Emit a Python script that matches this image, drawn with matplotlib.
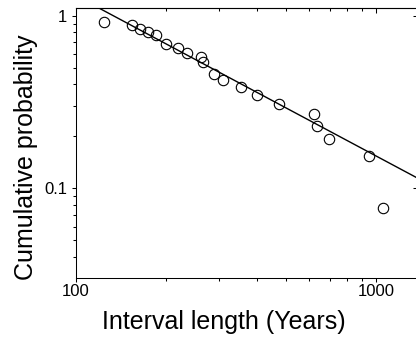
import matplotlib
matplotlib.use("Agg")
import matplotlib.pyplot as plt
from matplotlib.ticker import LogLocator, NullFormatter

# data
interval_years = [124, 154, 164, 174, 185, 200, 219, 234, 260, 265,
                  288, 308, 354, 400, 474, 620, 634, 697, 950, 1053]
cum_prob = [0.919, 0.884, 0.837, 0.804, 0.770, 0.688, 0.653, 0.610, 0.579, 0.537,
            0.461, 0.422, 0.385, 0.347, 0.309, 0.270, 0.231, 0.192, 0.153, 0.077]

# fitted line (end points)
fit_x = [118, 1450]
fit_y = [1.118, 0.109]

plt.rcParams['font.family'] = ['Liberation Sans', 'DejaVu Sans']

fig = plt.figure(figsize=(4.16, 3.44), dpi=100)
# right spine sits just outside the picture, as in the reference
ax = fig.add_axes([76/416, 66/344, 342/416, 270/344])

ax.plot(fit_x, fit_y, color='black', lw=1.0)
ax.plot(interval_years, cum_prob, 'o', mfc='none', mec='black', ms=7.5, mew=0.8)

ax.set_xscale('log')
ax.set_yscale('log')
ax.set_xlim(100, 1380)
ax.set_ylim(0.0302, 1.108)

ax.set_xticks([100, 1000], ['100', '1000'])
ax.set_yticks([0.1, 1], ['0.1', '1'])
for a in (ax.xaxis, ax.yaxis):
    a.set_minor_locator(LogLocator(subs=range(2, 10)))
    a.set_minor_formatter(NullFormatter())

ax.tick_params(axis='both', which='major', direction='out', length=3, width=0.75, labelsize=12)
ax.tick_params(axis='both', which='minor', direction='out', length=2.2, width=0.75)
ax.tick_params(axis='x', pad=1)
ax.tick_params(axis='y', pad=3.5)
for s in ax.spines.values():
    s.set_linewidth(0.75)

# top and right ticks point inwards
top = ax.secondary_xaxis('top')
top.set_xticks([100, 1000])
top.xaxis.set_minor_locator(LogLocator(subs=range(2, 10)))
top.tick_params(which='both', direction='in', labeltop=False, width=0.75)
top.tick_params(which='major', length=3.5)
top.tick_params(which='minor', length=2)
right = ax.secondary_yaxis('right')
right.set_yticks([0.1, 1])
right.yaxis.set_minor_locator(LogLocator(subs=range(2, 10)))
right.tick_params(which='both', direction='in', labelright=False, width=0.75)
right.tick_params(which='major', length=3.5)
right.tick_params(which='minor', length=1.2)

ax.set_xlabel('Interval length (Years)', fontsize=18)
ax.set_ylabel('Cumulative probability', fontsize=18)
ax.xaxis.set_label_coords((223.5 - 76) / 342, -(310 - 278) / 270)
ax.yaxis.set_label_coords((38 - 76) / 342, (278 - 157) / 270)

fig.savefig('out.png', dpi=100)
